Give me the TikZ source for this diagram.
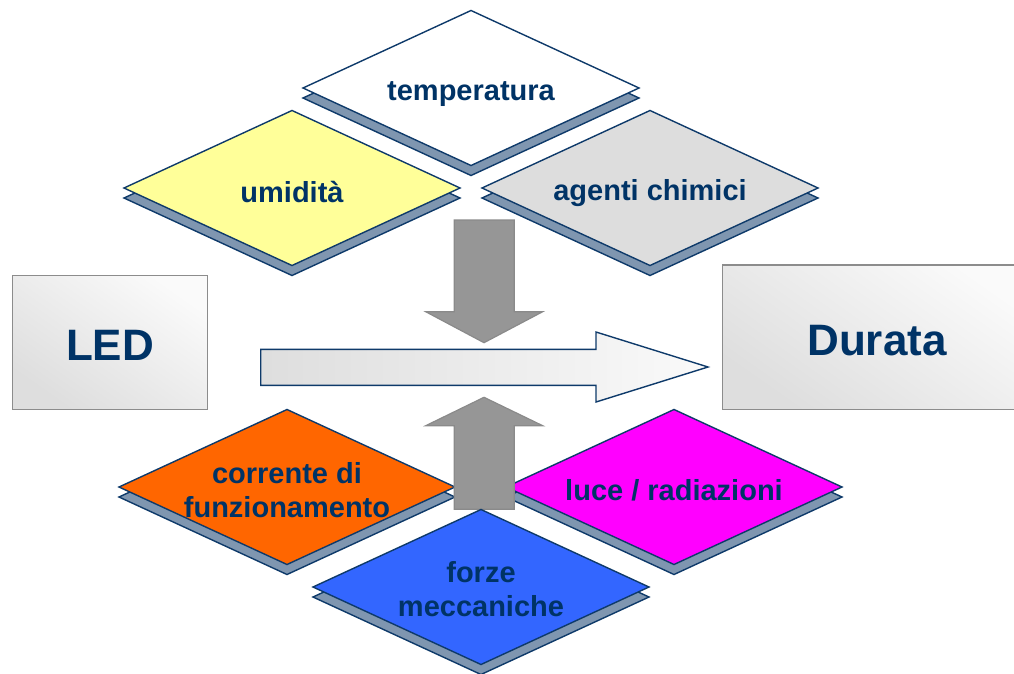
\documentclass[tikz,border=0pt]{standalone}
\usepackage{fontspec}
\setmainfont{Liberation Sans}
\definecolor{navy}{HTML}{003366}
\definecolor{edge}{HTML}{0E3A6A}
\definecolor{shadowc}{HTML}{7F96B0}
\definecolor{arrgray}{HTML}{969696}
\definecolor{arredge}{HTML}{8A8A8A}
\definecolor{cyellow}{HTML}{FFFF99}
\definecolor{cgray}{HTML}{DDDDDD}
\definecolor{corange}{HTML}{FF6600}
\definecolor{cblue}{HTML}{3366FF}
\definecolor{cmagenta}{HTML}{FF00FF}
\tikzset{
  diatext/.style={text=navy, font=\bfseries\fontsize{29}{34}\selectfont, align=center, inner sep=0pt},
  bigtext/.style={text=navy, font=\bfseries\fontsize{44}{50}\selectfont, inner sep=0pt},
  shadowdia/.style={fill=shadowc, draw=edge, line width=1.4pt, line join=miter},
  facedia/.style={draw=edge, line width=1.4pt, line join=miter},
  graybox/.style={draw=gray!90, line width=1.4pt, shading=axis, bottom color=black!13, top color=black!2, shading angle=-35},
  grayarrow/.style={fill=arrgray, draw=arredge, line width=1.2pt},
}
% #1 name, #2 cx, #3 cy, #4 fill, #5 text, #6 text y offset
\newcommand\rombo[6]{%
  \begin{scope}[shift={(#2,#3)}]
    \draw[shadowdia] (-168,10) -- (0,-67.5) -- (168,10) -- (0,87.5) -- cycle;
    \draw[facedia, fill=#4] (-168,0) -- (0,-77.5) -- (168,0) -- (0,77.5) -- cycle;
  \end{scope}
  \node[diatext] (#1) at (#2,#3+#6) {#5};%
}
\begin{document}
\begin{tikzpicture}[x=1pt,y=-1pt]
\useasboundingbox (0,0) rectangle (1014,674);
\clip (0,0) rectangle (1014,674);
% top diamonds
\rombo{temp}{471}{88}{white}{temperatura}{6}
\rombo{umid}{292}{188}{cyellow}{umidità}{4}
\rombo{agen}{650}{188}{cgray}{agenti chimici}{5}
% down arrow
\draw[grayarrow] (454.3,220) -- (514.3,220) -- (514.3,311.7) -- (542.7,311.7)
  -- (484,342.7) -- (425.7,311.7) -- (454.3,311.7) -- cycle;
% main arrow
\draw[draw=edge, line width=1.4pt, line join=miter, shading=axis, left color=black!13, right color=black!2]
  (260.7,349.3) -- (596,349.3) -- (596,332) -- (708,367) -- (596,402) -- (596,385.3) -- (260.7,385.3) -- cycle;
% boxes
\draw[graybox] (12.7,275.7) rectangle (207.7,409.3);
\node[bigtext] (led) at (110,345) {LED};
\draw[graybox] (722.7,265) rectangle (1030,409.3);
\node[bigtext] (dur) at (877,341) {Durata};
% bottom diamonds
\rombo{corr}{287}{487}{corange}{corrente di\\funzionamento}{3}
\rombo{luce}{674}{487}{cmagenta}{luce / radiazioni}{3}
% up arrow
\draw[grayarrow] (454.3,509.3) -- (514.3,509.3) -- (514.3,425.7) -- (542.7,425.7)
  -- (484,397.3) -- (425.7,425.7) -- (454.3,425.7) -- cycle;
\rombo{forz}{481}{587}{cblue}{forze\\meccaniche}{2}
\end{tikzpicture}
\end{document}
